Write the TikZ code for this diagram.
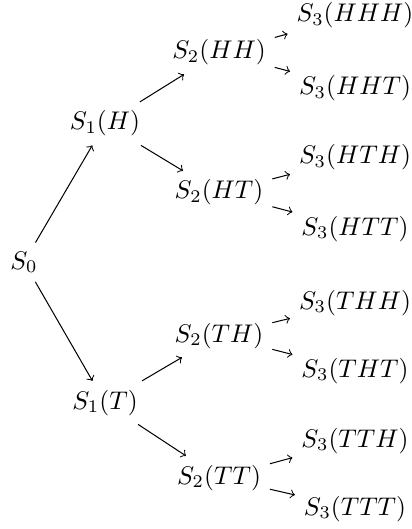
\documentclass[tikz,border=0pt]{standalone}
\usetikzlibrary{positioning}
\begin{document}
\begin{tikzpicture}[
	x=0.392pt,
	y=-0.392pt,
	estado/.style={
		anchor=base,
		inner sep=3.33pt
	},
	rama/.style={
		->,
		line width=0.4pt,
		black
	}
	]
	\useasboundingbox (0,0) rectangle (411,529);
	% raiz y primer lanzamiento
	\node[estado] (s0) at (24,269) {$S_0$};
	\node[estado] (s1h) at (105,130) {$S_1(H)$};
	\node[estado] (s1t) at (105,409) {$S_1(T)$};
	% segundo lanzamiento
	\node[estado] (s2hh) at (219,59) {$S_2(HH)$};
	\node[estado] (s2ht) at (219,199) {$S_2(HT)$};
	\node[estado] (s2th) at (219,342) {$S_2(TH)$};
	\node[estado] (s2tt) at (219,484) {$S_2(TT)$};
	% tercer lanzamiento
	\node[estado] (s3hhh) at (355,22) {$S_3(HHH)$};
	\node[estado] (s3hht) at (355,95) {$S_3(HHT)$};
	\node[estado] (s3hth) at (355,164) {$S_3(HTH)$};
	\node[estado] (s3htt) at (355,235) {$S_3(HTT)$};
	\node[estado] (s3thh) at (355,309) {$S_3(THH)$};
	\node[estado] (s3tht) at (355,377) {$S_3(THT)$};
	\node[estado] (s3tth) at (355,447) {$S_3(TTH)$};
	\node[estado] (s3ttt) at (355,515) {$S_3(TTT)$};
	\draw[rama] (s0) -- (s1h);
	\draw[rama] (s0) -- (s1t);
	\draw[rama] (s1h) -- (s2hh);
	\draw[rama] (s1h) -- (s2ht);
	\draw[rama] (s1t) -- (s2th);
	\draw[rama] (s1t) -- (s2tt);
	\draw[rama] (s2hh) -- (s3hhh);
	\draw[rama] (s2hh) -- (s3hht);
	\draw[rama] (s2ht) -- (s3hth);
	\draw[rama] (s2ht) -- (s3htt);
	\draw[rama] (s2th) -- (s3thh);
	\draw[rama] (s2th) -- (s3tht);
	\draw[rama] (s2tt) -- (s3tth);
	\draw[rama] (s2tt) -- (s3ttt);
\end{tikzpicture}
\end{document}
